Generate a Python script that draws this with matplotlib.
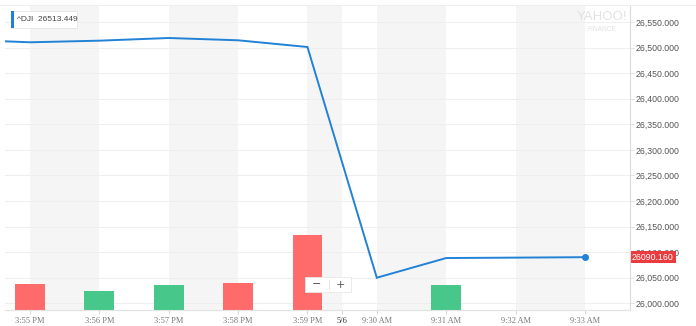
import numpy as np
import matplotlib
matplotlib.use("Agg")
import matplotlib.pyplot as plt
from matplotlib.patches import Rectangle

# Intraday ^DJI, last minutes of 5/3 and first minutes of 5/6
times = ["3:54 PM", "3:55 PM", "3:56 PM", "3:57 PM", "3:58 PM", "3:59 PM",
         "9:30 AM", "9:31 AM", "9:32 AM", "9:33 AM"]
prices = [26515.6, 26510.3, 26513.449, 26518.7, 26514.2, 26501.1,
          26050.0, 26088.5, 26089.3, 26090.16]

# volume bars (relative heights), starting at 3:55 PM
vol_times = ["3:55 PM", "3:56 PM", "3:57 PM", "3:58 PM", "3:59 PM",
             "9:30 AM", "9:31 AM", "9:32 AM", "9:33 AM"]
volumes = [26.3, 19.0, 24.7, 27.0, 75.0, 0.0, 24.7, 0.0, 0.0]
vol_up = [False, True, True, False, False, True, True, True, True]

day_label = "5/6"
y_ticks = np.arange(26000, 26551, 50)

BLUE = "#2282d6"
RED = "#ff6b6b"
GREEN = "#47c88a"
BAND = "#f5f5f5"
GRID = "#eeeeee"

x_price = np.arange(len(times)) - 1
x_vol = np.arange(len(vol_times))

W, H = 696, 326
fig = plt.figure(figsize=(W / 100, H / 100), dpi=100)
fig.patch.set_facecolor("white")

left, right, top, bottom = 5, 630, 5, 310
rect = [left / W, 1 - bottom / H, (right - left) / W, (bottom - top) / H]

# price axes at the bottom (bands, grid, line), volume axes on top of it
ax = fig.add_axes(rect)
ax_vol = ax.twinx()
ax_vol.patch.set_visible(False)

bands = [(0, 1), (2, 3), (4, 4.5), (5, 6), (7, 8)]
for a, b in bands:
    ax.axvspan(a, b, color=BAND, lw=0, zorder=0)

ax.plot(x_price, prices, color=BLUE, lw=1.4, zorder=3, solid_joinstyle="miter")
ax.plot(x_price[-1], prices[-1], "o", color=BLUE, ms=4, zorder=4)

colors = [GREEN if up else RED for up in vol_up]
ax_vol.bar(x_vol, volumes, width=0.43, color=colors, zorder=2)
ax_vol.set_ylim(0, 305)
ax_vol.set_yticks([])

xlim = (-0.36, 8.65)
ax.set_xlim(*xlim)
ax.set_ylim(25986.9, 26583.2)
ax.yaxis.tick_right()
ax.set_yticks(y_ticks)
ax.set_yticklabels([f"{v:,.3f}" for v in y_ticks], fontsize=6.3,
                   color="#555555", family="Liberation Sans")
ax.yaxis.set_tick_params(length=3, width=0.6, color="#dddddd", pad=1)
ax.grid(axis="y", color=GRID, lw=0.7, zorder=1)

xt = [0, 1, 2, 3, 4, 4.5, 5, 6, 7, 8]
xl = vol_times[:5] + [day_label] + vol_times[5:]
ax.set_xticks(xt)
ax.set_xticklabels(xl, fontsize=6, color="#777777", family="Liberation Serif")
ax.xaxis.set_tick_params(length=3, width=0.6, color="#cccccc", pad=2)
for lbl in ax.get_xticklabels():
    if lbl.get_text() == day_label:
        lbl.set_color("#333333")

for a in (ax, ax_vol):
    for s in ("left", "top"):
        a.spines[s].set_visible(False)
    a.spines["right"].set_color("#dddddd")
    a.spines["bottom"].set_color("#e3e3e3")
    a.spines["right"].set_linewidth(0.8)
    a.spines["bottom"].set_linewidth(0.8)

# top border line
fig.add_artist(plt.Line2D([0, 1], [1 - 5 / H, 1 - 5 / H], color="#eeeeee", lw=0.8))

# tooltip box
fig.add_artist(Rectangle((11 / W, 1 - 28 / H), 66 / W, 17 / H, transform=fig.transFigure,
                         fc="white", ec="#e4e4e4", lw=0.6, zorder=10))
fig.add_artist(Rectangle((11 / W, 1 - 28 / H), 2.5 / W, 17 / H, transform=fig.transFigure,
                         fc="#1f7fd9", ec="none", zorder=11))
fig.text(17 / W, 1 - 19.5 / H, "^DJI  26513.449", fontsize=6, color="#444444",
         family="Liberation Sans", va="center", ha="left", zorder=12)

# watermark
ax.text(0.955, 0.962, "YAHOO!", transform=ax.transAxes, fontsize=9.5,
        color="#e2e2e2", ha="center", va="center", family="Liberation Sans")
ax.text(0.955, 0.92, "FINANCE", transform=ax.transAxes, fontsize=4.8,
        color="#e2e2e2", ha="center", va="center", family="Liberation Sans")

# last value label
ax.annotate(f"{prices[-1]:.3f}", xy=(1.0, prices[-1]),
            xycoords=("axes fraction", "data"), xytext=(1.5, 0),
            textcoords="offset points", fontsize=6.3, color="white",
            family="Liberation Sans", va="center", ha="left", zorder=20,
            bbox=dict(boxstyle="square,pad=0.2", fc="#ea3b3e", ec="none"),
            annotation_clip=False)

# zoom control
fig.add_artist(Rectangle((305 / W, 1 - 292 / H), 46 / W, 15 / H,
                         transform=fig.transFigure, fc="white", ec="#e8e8e8", lw=0.6,
                         zorder=10))
fig.text(317 / W, 1 - 284.5 / H, "\u2212", fontsize=8, color="#555555",
         ha="center", va="center", zorder=11)
fig.text(340 / W, 1 - 284.5 / H, "+", fontsize=8, color="#555555",
         ha="center", va="center", zorder=11)
fig.add_artist(plt.Line2D([329 / W, 329 / W], [1 - 289 / H, 1 - 280 / H],
                          color="#e0e0e0", lw=0.6, zorder=11))

fig.savefig("out.png", dpi=100)
